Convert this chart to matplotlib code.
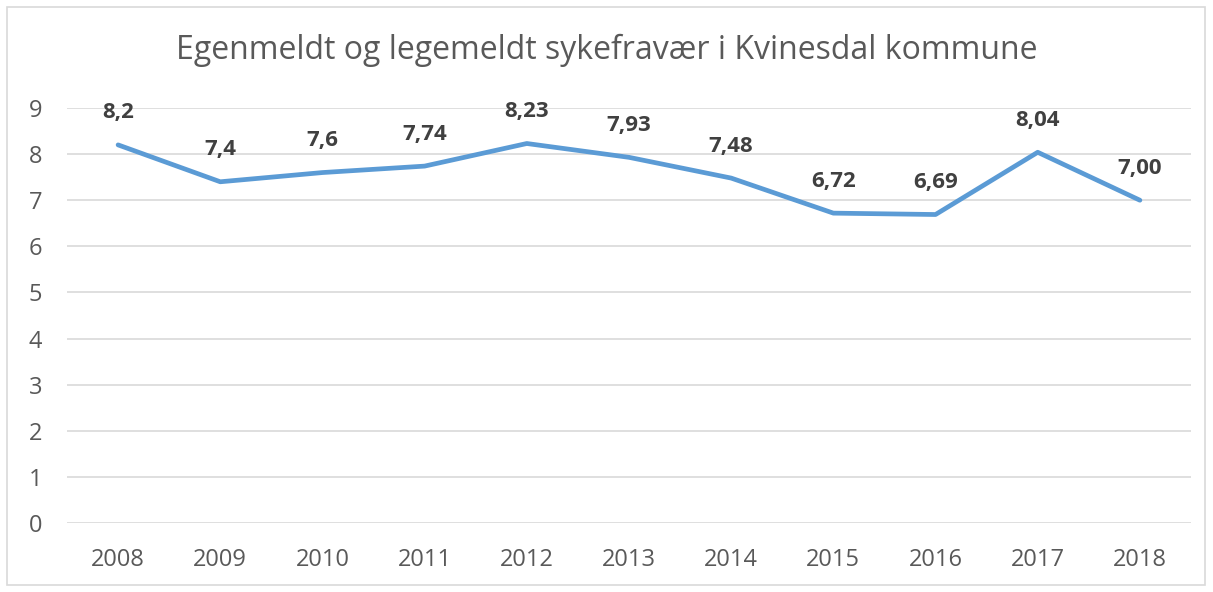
import matplotlib
matplotlib.use('Agg')
import matplotlib.pyplot as plt
from matplotlib.patches import Rectangle

# data
years = ['2008', '2009', '2010', '2011', '2012', '2013', '2014', '2015', '2016', '2017', '2018']
values = [8.2, 7.4, 7.6, 7.74, 8.23, 7.93, 7.48, 6.72, 6.69, 8.04, 7.00]
labels = ['8,2', '7,4', '7,6', '7,74', '8,23', '7,93', '7,48', '6,72', '6,69', '8,04', '7,00']

plt.rcParams['font.family'] = ['Open Sans', 'DejaVu Sans']

fig = plt.figure(figsize=(12.13, 5.92), dpi=100)
# light gray frame round the chart
fig.patches.append(Rectangle((7/1213, 7/592), 1198/1213, 578/592, transform=fig.transFigure,
                             fill=False, edgecolor='#D9D9D9', linewidth=1.2))

ax = fig.add_axes([67/1213, 69/592, 1124/1213, 415/592])
x = list(range(len(years)))
ax.plot(x, values, color='#5B9BD5', linewidth=3.4, solid_capstyle='round', zorder=3)

for xi, v, lab in zip(x, values, labels):
    ax.annotate(lab, (xi, v), xytext=(0, 23), textcoords='offset points', ha='center', va='center',
                fontsize=16, fontweight='bold', color='#404040')

ax.set_xlim(-0.5, len(years) - 0.5)
ax.set_ylim(0, 9)
ax.set_yticks(range(0, 10))
ax.set_xticks(x)
ax.set_xticklabels(years)
ax.grid(axis='y', color='#D9D9D9', linewidth=1.2)
ax.set_axisbelow(True)
for s in ax.spines.values():
    s.set_visible(False)
ax.tick_params(length=0, labelsize=17, colors='#595959')
ax.tick_params(axis='y', pad=18)
ax.tick_params(axis='x', pad=18)

fig.suptitle('Egenmeldt og legemeldt sykefravær i Kvinesdal kommune', y=1 - 50/592, va='center',
             fontsize=23, color='#595959')

fig.savefig('out.png', dpi=100)
